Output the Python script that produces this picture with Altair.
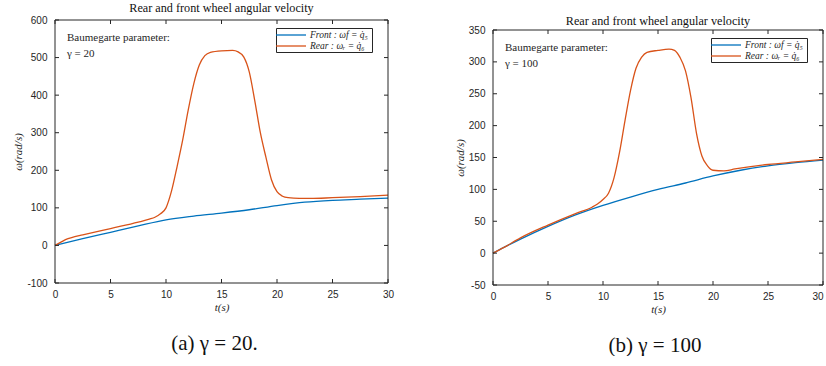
import altair as alt
import pandas as pd

TITLE = "Rear and front wheel angular velocity"
SERIES = ["Front", "Rear"]
X_TICKS = [0, 5, 10, 15, 20, 25, 30]

# Panel (a): gamma = 20
a_front_t = [0, 2.5, 5, 7.5, 10, 12.5, 15, 17.5, 20, 22.5, 25, 27.5, 30]
a_front_w = [0, 18, 35, 52, 68, 78, 86, 95, 106, 115, 120, 123, 126]
a_rear_t = [0, 0.5, 1, 1.5, 2.5, 5, 7.5, 8.5, 9, 9.5, 10, 10.5, 11, 11.5, 12,
            12.5, 13, 13.5, 14, 15, 16, 16.5, 17, 17.5, 18, 18.5, 19, 19.5, 20,
            20.5, 21, 22, 23, 25, 27.5, 30]
a_rear_w = [0, 8, 16, 21, 28, 45, 62, 70, 75, 84, 100, 145, 210, 280, 360,
            430, 480, 505, 514, 518, 519, 515, 502, 462, 385, 300, 235, 175, 143,
            131, 127, 125, 125, 127, 130, 134]
a_y_ticks = [-100, 0, 100, 200, 300, 400, 500, 600]

# Panel (b): gamma = 100
b_front_t = [0, 2.5, 5, 7.5, 10, 12.5, 15, 17.5, 20, 22.5, 25, 27.5, 30]
b_front_w = [0, 22, 42, 60, 75, 88, 100, 110, 121, 130, 137, 142, 146]
b_rear_t = [0, 1, 2.5, 5, 7.5, 9, 9.5, 10, 10.5, 11, 11.5, 12, 12.5, 13, 13.5,
            14, 15, 16, 16.5, 17, 17.5, 18, 18.5, 19, 19.5, 20, 21, 22, 25, 27.5, 30]
b_rear_w = [0, 9, 24, 44, 62, 72, 77, 84, 94, 118, 158, 208, 255, 290, 307,
            315, 318, 320, 318, 307, 286, 244, 188, 152, 137, 130, 129, 132, 139, 143, 147]
b_y_ticks = [-50, 0, 50, 100, 150, 200, 250, 300, 350]

BLUE = "#0072BD"
ORANGE = "#D95319"
AX = "#262626"
SERIF = "Liberation Serif"
SANS = "Liberation Sans"

LEGEND_EXPR = ("datum.label == 'Front' ? 'Front :  \u03c9f = q\u0307\u2085' "
               ": 'Rear :  \u03c9\u1d63 = q\u0307\u2086'")


def text_layer(txt, x, y, **kw):
    return alt.Chart(pd.DataFrame({"txt": [txt]})).mark_text(**kw).encode(
        x=alt.value(x), y=alt.value(y), text="txt:N")


def rule_layer(**enc):
    return alt.Chart(pd.DataFrame({"d": [0]})).mark_rule(color=AX, strokeWidth=1).encode(**enc)


def panel(front_t, front_w, rear_t, rear_w, y_ticks, W, H, top, title,
          gamma, caption, cap_dx, cap_dy, x_label_align):
    df = pd.concat([
        pd.DataFrame({"t": front_t, "w": front_w, "s": SERIES[0]}),
        pd.DataFrame({"t": rear_t, "w": rear_w, "s": SERIES[1]}),
    ])
    X = alt.X("t:Q", scale=alt.Scale(domain=[X_TICKS[0], X_TICKS[-1]], nice=False, zero=False),
              axis=alt.Axis(values=X_TICKS, title="t(s)", labelExpr="toString(datum.value)",
                            labelAlign=x_label_align))
    Y = alt.Y("w:Q", scale=alt.Scale(domain=[y_ticks[0], y_ticks[-1]], nice=False, zero=False,
                                     range=[H, top]),
              axis=alt.Axis(values=y_ticks, title="\u03c9(rad/s)", labelExpr="toString(datum.value)"))

    lines = alt.Chart(df).mark_line(interpolate="monotone", strokeWidth=1.3).encode(
        x=X, y=Y,
        color=alt.Color("s:N", scale=alt.Scale(domain=SERIES, range=[BLUE, ORANGE]),
                        legend=alt.Legend(orient="none", legendX=W - 112, legendY=top + 8, title=None,
                                          symbolType="M-3,0H3", symbolSize=100, symbolStrokeWidth=1.3,
                                          symbolOffset=8, labelOffset=13,
                                          labelFont=SERIF, labelFontStyle="italic", labelFontSize=9.5,
                                          labelColor=AX, padding=1, rowPadding=0,
                                          strokeColor=AX, fillColor="white",
                                          labelExpr=LEGEND_EXPR)),
    )

    xt = pd.DataFrame({"t": X_TICKS})
    yt = pd.DataFrame({"w": y_ticks})
    tick = dict(color=AX, strokeWidth=1)
    t_bottom = alt.Chart(xt).mark_rule(**tick).encode(x=X, y=alt.value(H), y2=alt.value(H - 4))
    t_top = alt.Chart(xt).mark_rule(**tick).encode(x=X, y=alt.value(top), y2=alt.value(top + 4))
    t_left = alt.Chart(yt).mark_rule(**tick).encode(y=Y, x=alt.value(0), x2=alt.value(4))
    t_right = alt.Chart(yt).mark_rule(**tick).encode(y=Y, x=alt.value(W - 4), x2=alt.value(W))

    box = [
        rule_layer(x=alt.value(0), x2=alt.value(W), y=alt.value(top)),
        rule_layer(x=alt.value(0), x2=alt.value(W), y=alt.value(H)),
        rule_layer(x=alt.value(0), y=alt.value(top), y2=alt.value(H)),
        rule_layer(x=alt.value(W), y=alt.value(top), y2=alt.value(H)),
    ]

    ann_style = dict(align="left", baseline="middle", font=SERIF, fontSize=11, color=AX)
    ann1 = text_layer("Baumegarte parameter:", 12, top + 18, **ann_style)
    ann2 = text_layer(gamma, 12, top + 34, **ann_style)
    cap = text_layer(caption, W / 2 + cap_dx, H + cap_dy, align="center", baseline="middle",
                     font=SERIF, fontSize=21, color="#111111")

    return alt.layer(lines, t_bottom, t_top, t_left, t_right, *box, ann1, ann2, cap).properties(
        width=W, height=H, title=title
    )


left_panel = panel(a_front_t, a_front_w, a_rear_t, a_rear_w, a_y_ticks, 333, 263, 0,
                   alt.TitleParams(TITLE, font=SERIF, fontSize=12.2, fontWeight="normal",
                                   color="#111111", offset=1),
                   "\u03b3 = 20", "(a) \u03b3 = 20.", -7, 61, "center")
right_panel = panel(b_front_t, b_front_w, b_rear_t, b_rear_w, b_y_ticks, 330, 265, 10,
                    alt.TitleParams(TITLE, font=SERIF, fontSize=12.2, fontWeight="normal",
                                    color="#111111", offset=1, dy=8),
                    "\u03b3 = 100", "(b) \u03b3 = 100", -3, 61,
                    {"condition": {"test": "datum.value == 30", "value": "right"}, "value": "center"})

chart = alt.hconcat(left_panel, right_panel, spacing=60).resolve_scale(
    color="independent"
).resolve_legend(color="independent").properties(
    padding={"left": 12, "top": 1, "right": 0, "bottom": 0}, background="white"
).configure_view(stroke=None).configure_axis(
    domain=False, ticks=False, grid=False,
    labelFont=SANS, labelFontSize=10, labelColor=AX, labelPadding=8,
    titleFont=SERIF, titleFontStyle="italic", titleFontWeight="normal",
    titleFontSize=11, titleColor=AX, titlePadding=3,
).configure_axisX(labelPadding=6, titlePadding=2)

chart.save("out.html", embed_options={"renderer": "svg", "actions": False})
